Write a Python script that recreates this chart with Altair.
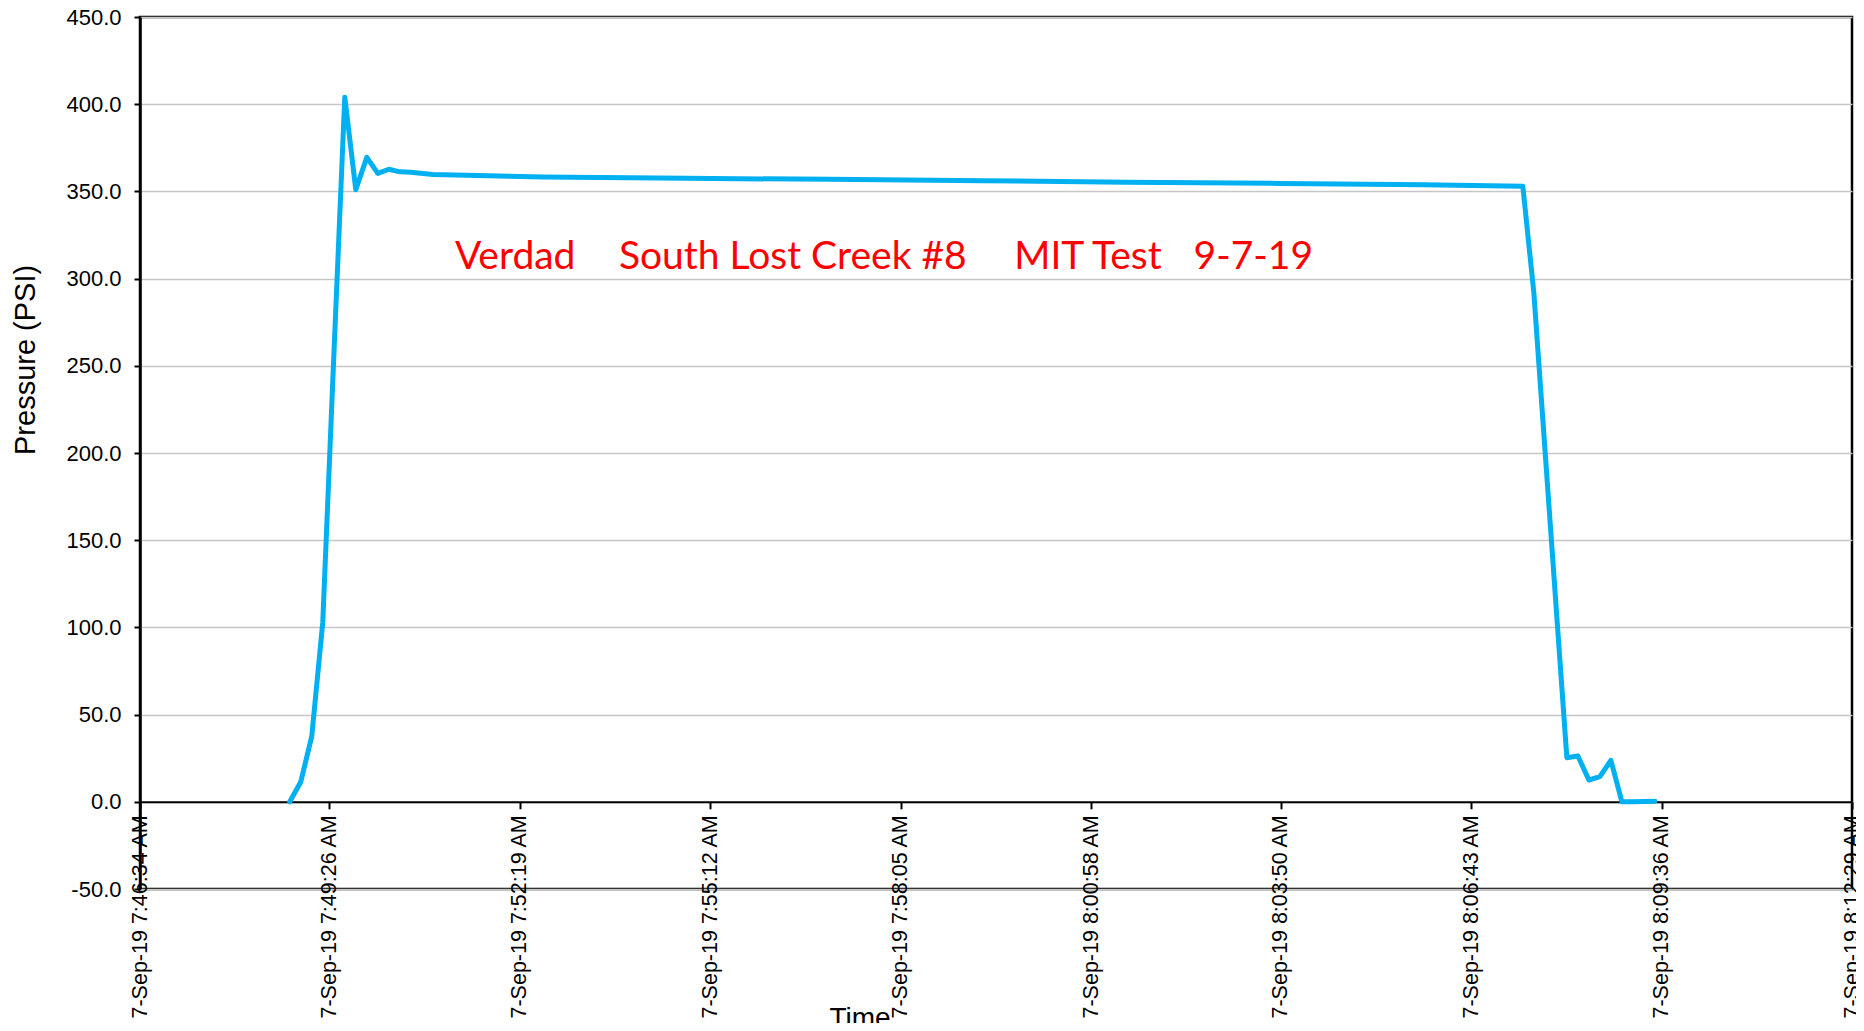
import altair as alt
import pandas as pd

# ---- data ----
times = [
    "07:48:50", "07:49:00", "07:49:10", "07:49:20", "07:49:30", "07:49:40",
    "07:49:50", "07:50:00", "07:50:10", "07:50:20", "07:50:30", "07:50:40",
    "07:51:00", "07:52:40", "07:54:50", "07:57:00", "07:59:20", "08:01:30",
    "08:03:50", "08:06:00", "08:07:30", "08:07:40", "08:07:50", "08:08:00",
    "08:08:10", "08:08:20", "08:08:30", "08:08:40", "08:08:50", "08:09:00",
    "08:09:10", "08:09:20", "08:09:30",
]
pressure = [
    0.0, 11.4, 37.5, 103.0, 255.0, 404.0,
    351.0, 369.5, 360.3, 362.7, 361.2, 361.0,
    359.7, 358.2, 357.5, 356.9, 356.1, 355.3,
    354.6, 353.8, 353.0, 292.0, 203.0, 114.0,
    25.3, 26.3, 12.5, 14.4, 23.8, 0.0,
    0.1, 0.2, 0.3,
]
tick_times = ["07:46:34", "07:49:26", "07:52:19", "07:55:12", "07:58:05",
              "08:00:58", "08:03:50", "08:06:43", "08:09:36", "08:12:29"]
y_ticks = [-50, 0, 50, 100, 150, 200, 250, 300, 350, 400, 450]

note_parts = ["Verdad", "South Lost Creek #8", "MIT Test", "9-7-19"]
note_times = ["07:51:20", "07:53:49", "07:59:48", "08:02:31"]
note_value = 305.4

DAY = "2019-09-07T"


def dt(s):
    h, m, sec = (int(p) for p in s.split(":"))
    return alt.DateTime(year=2019, month=9, date=7, hours=h, minutes=m, seconds=sec)


df = pd.DataFrame({"t": [DAY + s for s in times], "p": pressure})
notes = pd.DataFrame({"t": [DAY + s for s in note_times], "p": [note_value] * 4,
                      "txt": note_parts})

x_scale = alt.Scale(domain=[dt(tick_times[0]), dt(tick_times[-1])], nice=False)
y_scale = alt.Scale(domain=[-50, 450], nice=False, zero=False)

x_axis = alt.Axis(
    values=[dt(s) for s in tick_times],
    format="%-d-%b-%y %-I:%M:%S %p",
    labelAngle=-90,
    labelFont="Liberation Sans",
    labelFontSize=21.5,
    labelColor="black",
    labelPadding=6,
    labelOverlap=False,
    labelFlush=False,
    labelLimit=0,
    tickSize=7,
    tickColor="black",
    tickWidth=2,
    domainColor="black",
    domainWidth=2,
    grid=False,
    offset=-87.2,
    title="Time",
    titleFont="Liberation Sans",
    titleFontSize=28,
    titleFontWeight="normal",
    titleColor="black",
    titleX=719.5,
    titleY=224.2,
    titleAlign="center",
    titleBaseline="alphabetic",
)

y_axis = alt.Axis(
    values=y_ticks,
    labelExpr="(datum.value < 0 ? '-' : '') + format(abs(datum.value), '.1f')",
    labelFont="Liberation Sans",
    labelFontSize=22,
    labelColor="black",
    labelPadding=13,
    tickSize=6,
    tickColor="black",
    tickWidth=2,
    domainColor="black",
    domainWidth=2.5,
    grid=True,
    gridColor="#c6c6c6",
    gridWidth=1.3,
    title="Pressure (PSI)",
    titleFont="Liberation Sans",
    titleFontSize=29,
    titleFontWeight="normal",
    titleColor="black",
    titleX=-106,
    titleY=342.4,
    titleAlign="center",
    titleBaseline="alphabetic",
    titleAngle=270,
)

line = alt.Chart(df).mark_line(
    color="#00b0f0", strokeWidth=5, strokeJoin="round", strokeCap="round"
).encode(
    x=alt.X("t:T", scale=x_scale, axis=x_axis),
    y=alt.Y("p:Q", scale=y_scale, axis=y_axis),
)

text = alt.Chart(notes).mark_text(
    color="#ff0000", font="Lato", fontSize=39, align="left", baseline="alphabetic"
).encode(
    x=alt.X("t:T", scale=x_scale),
    y=alt.Y("p:Q", scale=y_scale),
    text="txt:N",
)

chart = alt.layer(line, text).properties(
    width=1712,
    height=872,
    autosize=alt.AutoSizeParams(type="none"),
    padding={"left": 132, "top": 9, "right": 4, "bottom": 134},
    background="white",
).configure_view(stroke="black", strokeWidth=2.5)

chart.save("out.html", embed_options={"renderer": "svg", "actions": False})
